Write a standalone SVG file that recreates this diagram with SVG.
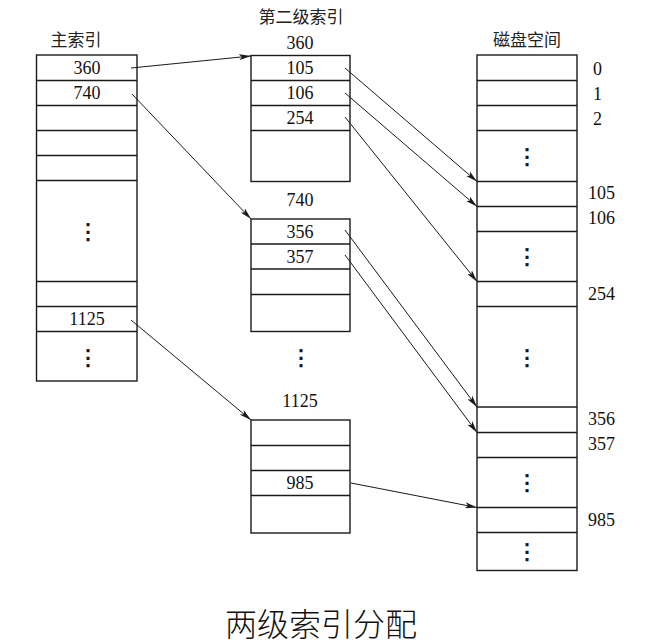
<svg xmlns="http://www.w3.org/2000/svg" width="645" height="644" viewBox="0 0 645 644">
<style>
.box{fill:#fff;stroke:#1a1a1a;stroke-width:1.4}
.ln{stroke:#1a1a1a;stroke-width:1.4}
.num{font-family:"Liberation Serif","Times New Roman",serif;font-size:18px;fill:#111;text-anchor:middle;dominant-baseline:central}
.rnum{font-family:"Liberation Serif","Times New Roman",serif;font-size:18px;fill:#111;dominant-baseline:central}
.cn{font-family:"Noto Sans CJK SC","Noto Sans",sans-serif;font-size:17px;fill:#222;text-anchor:middle;dominant-baseline:central}
.dots{font-family:"DejaVu Sans",sans-serif;font-size:22px;fill:#111;stroke:#111;stroke-width:0.6;text-anchor:middle;dominant-baseline:central}
.arr{stroke:#1a1a1a;stroke-width:1;fill:none;marker-end:url(#ah)}
</style>
<defs>
<marker id="ah" viewBox="0 0 12 6" refX="12" refY="3" markerWidth="12" markerHeight="6" markerUnits="userSpaceOnUse" orient="auto">
<path d="M0,0 L12,3 L0,6 L3,3 Z" fill="#1a1a1a"/>
</marker>
</defs>
<rect width="645" height="644" fill="#fff"/>

<g id="main-index">
<text class="cn" x="76" y="38">主索引</text>
<rect class="box" x="36.5" y="55" width="100.5" height="326"/>
<line class="ln" x1="36.5" y1="80.5" x2="137" y2="80.5"/>
<line class="ln" x1="36.5" y1="105.5" x2="137" y2="105.5"/>
<line class="ln" x1="36.5" y1="130.5" x2="137" y2="130.5"/>
<line class="ln" x1="36.5" y1="155.5" x2="137" y2="155.5"/>
<line class="ln" x1="36.5" y1="180.5" x2="137" y2="180.5"/>
<line class="ln" x1="36.5" y1="281.5" x2="137" y2="281.5"/>
<line class="ln" x1="36.5" y1="306.5" x2="137" y2="306.5"/>
<line class="ln" x1="36.5" y1="331.5" x2="137" y2="331.5"/>
<text class="num" x="87" y="68">360</text>
<text class="num" x="87" y="93">740</text>
<text class="dots" x="88" y="231">⋮</text>
<text class="num" x="87" y="319">1125</text>
<text class="dots" x="88" y="357">⋮</text>
</g>

<g id="second-level-header">
<text class="cn" x="301" y="15">第二级索引</text>
</g>

<g id="index-block-360">
<text class="num" x="300" y="43">360</text>
<rect class="box" x="251" y="55.5" width="99" height="126"/>
<line class="ln" x1="251" y1="80.5" x2="350" y2="80.5"/>
<line class="ln" x1="251" y1="105.5" x2="350" y2="105.5"/>
<line class="ln" x1="251" y1="130.5" x2="350" y2="130.5"/>
<text class="num" x="300" y="68">105</text>
<text class="num" x="300" y="93">106</text>
<text class="num" x="300" y="118">254</text>
</g>

<g id="index-block-740">
<text class="num" x="300" y="200">740</text>
<rect class="box" x="251" y="219" width="99" height="112.5"/>
<line class="ln" x1="251" y1="244" x2="350" y2="244"/>
<line class="ln" x1="251" y1="269" x2="350" y2="269"/>
<line class="ln" x1="251" y1="294.5" x2="350" y2="294.5"/>
<text class="num" x="300" y="231.5">356</text>
<text class="num" x="300" y="256.5">357</text>
<text class="dots" x="301" y="357">⋮</text>
</g>

<g id="index-block-1125">
<text class="num" x="300" y="401">1125</text>
<rect class="box" x="251" y="420" width="99" height="113"/>
<line class="ln" x1="251" y1="445.5" x2="350" y2="445.5"/>
<line class="ln" x1="251" y1="470.5" x2="350" y2="470.5"/>
<line class="ln" x1="251" y1="495.5" x2="350" y2="495.5"/>
<text class="num" x="300" y="483">985</text>
</g>

<g id="disk-space">
<text class="cn" x="527" y="38">磁盘空间</text>
<rect class="box" x="477" y="55" width="100" height="515.5"/>
<line class="ln" x1="477" y1="80.5" x2="577" y2="80.5"/>
<line class="ln" x1="477" y1="105.5" x2="577" y2="105.5"/>
<line class="ln" x1="477" y1="130.5" x2="577" y2="130.5"/>
<line class="ln" x1="477" y1="181.5" x2="577" y2="181.5"/>
<line class="ln" x1="477" y1="206.5" x2="577" y2="206.5"/>
<line class="ln" x1="477" y1="231.5" x2="577" y2="231.5"/>
<line class="ln" x1="477" y1="281.5" x2="577" y2="281.5"/>
<line class="ln" x1="477" y1="306.5" x2="577" y2="306.5"/>
<line class="ln" x1="477" y1="407" x2="577" y2="407"/>
<line class="ln" x1="477" y1="432.5" x2="577" y2="432.5"/>
<line class="ln" x1="477" y1="457.5" x2="577" y2="457.5"/>
<line class="ln" x1="477" y1="507.5" x2="577" y2="507.5"/>
<line class="ln" x1="477" y1="532.5" x2="577" y2="532.5"/>
<text class="dots" x="527" y="156">⋮</text>
<text class="dots" x="527" y="256">⋮</text>
<text class="dots" x="527" y="357">⋮</text>
<text class="dots" x="527" y="482">⋮</text>
<text class="dots" x="527" y="551">⋮</text>
<text class="rnum" x="593" y="69">0</text>
<text class="rnum" x="593" y="94">1</text>
<text class="rnum" x="593" y="119">2</text>
<text class="rnum" x="588" y="193">105</text>
<text class="rnum" x="588" y="218">106</text>
<text class="rnum" x="588" y="294">254</text>
<text class="rnum" x="588" y="419">356</text>
<text class="rnum" x="588" y="444">357</text>
<text class="rnum" x="588" y="520">985</text>
</g>

<g id="connectors">
<line class="arr" x1="131" y1="68" x2="251" y2="56"/>
<line class="arr" x1="132" y1="94" x2="251" y2="219"/>
<line class="arr" x1="131" y1="320" x2="251" y2="420"/>
<line class="arr" x1="345" y1="68" x2="477" y2="181.5"/>
<line class="arr" x1="345" y1="93" x2="477" y2="206.5"/>
<line class="arr" x1="345" y1="117" x2="477" y2="281.5"/>
<line class="arr" x1="345" y1="230" x2="477" y2="407"/>
<line class="arr" x1="345" y1="255" x2="477" y2="432.5"/>
<line class="arr" x1="351" y1="483" x2="477" y2="507.5"/>
</g>

<g id="caption">
<text x="321" y="622" style="font-family:'Noto Sans CJK SC',sans-serif;font-size:32px;font-weight:300;fill:#111;text-anchor:middle;dominant-baseline:central">两级索引分配</text>
</g>
</svg>
